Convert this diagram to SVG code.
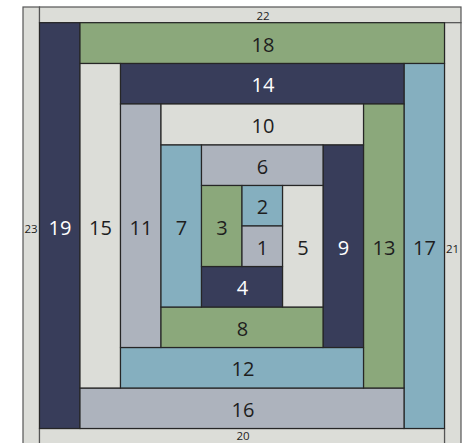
<svg xmlns="http://www.w3.org/2000/svg" width="468" height="443" viewBox="0 0 468 443">
<style>
rect{stroke:#262626;stroke-width:1.2}
.n{fill:#383d5a}.g{fill:#8ba87b}.l{fill:#dcddd8}.b{fill:#adb3bd}.t{fill:#85afbf}
text{font-family:"Open Sans","Liberation Sans",sans-serif;font-size:20px;fill:#1e1e1e;text-anchor:middle;dominant-baseline:central}
.w{fill:#ffffff}
.s{font-size:11.5px}
</style>
<rect width="468" height="443" style="fill:#ffffff;stroke:none"/>
<g id="p23"><rect class="l" x="23" y="7" width="16.5" height="438" style="stroke:#555"/><text class="s" x="31" y="228">23</text></g>
<g id="p22"><rect class="l" x="39.5" y="7" width="421.5" height="15.7" style="stroke:#555"/><text class="s" x="263" y="15">22</text></g>
<g id="p21"><rect class="l" x="444.5" y="22.7" width="16.5" height="422" style="stroke:#555"/><text class="s" x="452.5" y="248">21</text></g>
<g id="p20"><rect class="l" x="39.5" y="428.5" width="405" height="16.5" style="stroke:#555"/><text class="s" x="243" y="435.5">20</text></g>
<g id="p19"><rect class="n" x="39.5" y="22.7" width="40.5" height="405.8"/><text class="w" x="60" y="227">19</text></g>
<g id="p18"><rect class="g" x="80" y="22.7" width="364.5" height="40.8"/><text x="263" y="44">18</text></g>
<g id="p17"><rect class="t" x="404" y="63.5" width="40.5" height="365"/><text x="424.5" y="247">17</text></g>
<g id="p16"><rect class="b" x="80" y="388" width="324" height="40.5"/><text x="243" y="409">16</text></g>
<g id="p15"><rect class="l" x="80" y="63.5" width="40.5" height="324.5"/><text x="100.5" y="227">15</text></g>
<g id="p14"><rect class="n" x="120.5" y="63.5" width="283.5" height="40.5"/><text class="w" x="263" y="84.5">14</text></g>
<g id="p13"><rect class="g" x="363.5" y="104" width="40.5" height="284"/><text x="384" y="247">13</text></g>
<g id="p12"><rect class="t" x="120.5" y="347.5" width="243" height="40.5"/><text x="243" y="368.5">12</text></g>
<g id="p11"><rect class="b" x="120.5" y="104" width="40.5" height="243.5"/><text x="141" y="227">11</text></g>
<g id="p10"><rect class="l" x="161" y="104" width="202.5" height="41"/><text x="263" y="125">10</text></g>
<g id="p9"><rect class="n" x="323" y="145" width="40.5" height="202.5"/><text class="w" x="343.5" y="247">9</text></g>
<g id="p8"><rect class="g" x="161" y="307" width="162" height="40.5"/><text x="242.5" y="328">8</text></g>
<g id="p7"><rect class="t" x="161" y="145" width="40.5" height="162"/><text x="181.5" y="227">7</text></g>
<g id="p6"><rect class="b" x="201.5" y="145" width="121.5" height="40.5"/><text x="262.5" y="166">6</text></g>
<g id="p5"><rect class="l" x="282.5" y="185.5" width="40.5" height="121.5"/><text x="303" y="247">5</text></g>
<g id="p4"><rect class="n" x="201.5" y="266.5" width="81" height="40.5"/><text class="w" x="242.5" y="287.5">4</text></g>
<g id="p3"><rect class="g" x="201.5" y="185.5" width="40.5" height="81"/><text x="222" y="227">3</text></g>
<g id="p2"><rect class="t" x="242" y="185.5" width="40.5" height="40.5"/><text x="262.5" y="206.5">2</text></g>
<g id="p1"><rect class="b" x="242" y="226" width="40.5" height="40.5"/><text x="262.5" y="247">1</text></g>
<g id="connectors"></g>
</svg>
